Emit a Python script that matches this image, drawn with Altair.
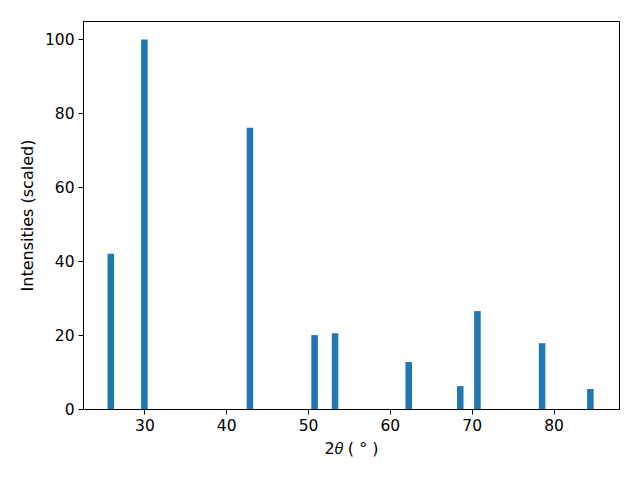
import altair as alt
import pandas as pd

two_theta = [25.9, 30.0, 42.9, 50.8, 53.3, 62.3, 68.6, 70.7, 78.6, 84.5]
intensity = [42.0, 100.0, 76.1, 20.0, 20.5, 12.7, 6.2, 26.5, 17.8, 5.4]
half_width = 0.4

df = pd.DataFrame({"two_theta": two_theta, "intensity": intensity})

font = "DejaVu Sans"

chart = (
    alt.Chart(df)
    .transform_calculate(x0=f"datum.two_theta - {half_width}", x1=f"datum.two_theta + {half_width}")
    .mark_bar(color="#1f77b4", cornerRadius=0)
    .encode(
        x=alt.X(
            "x0:Q",
            scale=alt.Scale(domain=[22.5, 88.0], nice=False, zero=False),
            axis=alt.Axis(
                title="2𝜃 ( ° )",
                values=[30, 40, 50, 60, 70, 80],
                grid=False,
                tickSize=5,
                tickColor="black",
                tickWidth=1,
                domainColor="black",
                labelPadding=4,
                labelFontSize=15.5,
                labelColor="black",
                labelFont=font,
                titleFont=font,
                titleFontSize=16,
                titleFontWeight="normal",
                titleColor="black",
                titlePadding=7,
            ),
        ),
        x2="x1:Q",
        y=alt.Y(
            "intensity:Q",
            scale=alt.Scale(domain=[0, 105], nice=False, padding=0),
            axis=alt.Axis(
                title="Intensities (scaled)",
                values=[0, 20, 40, 60, 80, 100],
                grid=False,
                tickSize=5,
                tickColor="black",
                tickWidth=1,
                domainColor="black",
                labelPadding=4,
                labelFontSize=15.5,
                labelColor="black",
                labelFont=font,
                titleFont=font,
                titleFontSize=16,
                titleFontWeight="normal",
                titleColor="black",
                titlePadding=9,
            ),
        ),
        y2=alt.datum(0),
    )
    .properties(
        width=536,
        height=388,
        autosize=alt.AutoSizeParams(type="none"),
        padding={"left": 75, "top": 13, "right": 13, "bottom": 60},
    )
    .configure_view(stroke="black", strokeWidth=1)
)

chart.save("out.html", embed_options={"renderer": "svg", "actions": False})
